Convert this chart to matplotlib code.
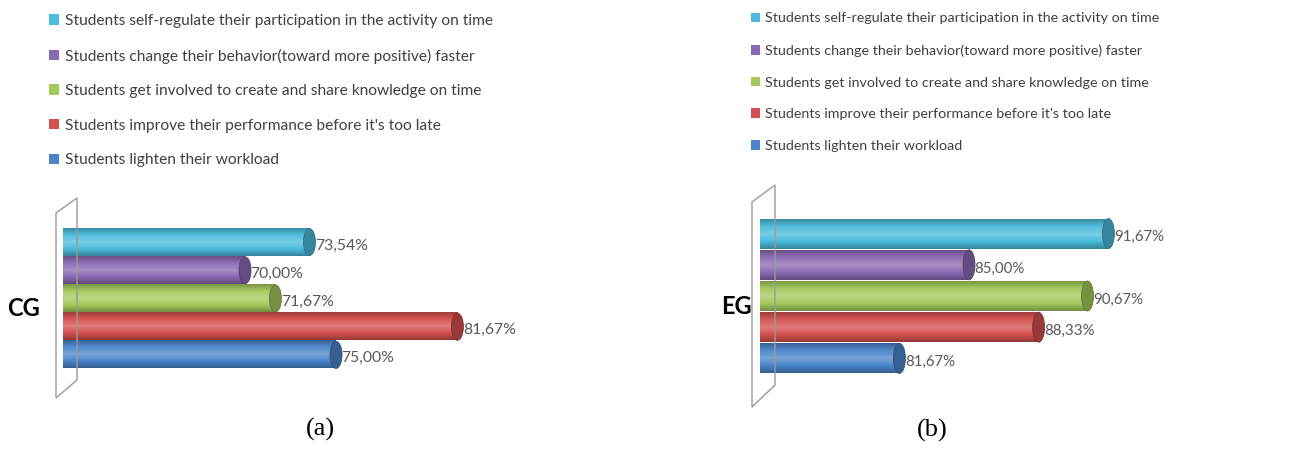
import numpy as np
import matplotlib
matplotlib.use("Agg")
import matplotlib.pyplot as plt
from matplotlib.patches import Ellipse, Patch, Polygon
from matplotlib.colors import LinearSegmentedColormap, to_rgb

# data (bottom to top, as drawn)
categories = ["Students lighten their workload",
              "Students improve their performance before it's too late",
              "Students get involved to create and share knowledge on time",
              "Students change their behavior(toward more positive) faster",
              "Students self-regulate their participation in the activity on time"]
cg_values = [75.00, 81.67, 71.67, 70.00, 73.54]
eg_values = [81.67, 88.33, 90.67, 85.00, 91.67]

bar_colors = ["#4A85CA", "#D4504E", "#A4C95C", "#8A69B4", "#4BBCDC"]
W, H = 1292, 450

plt.rcParams['font.family'] = ['Lato', 'DejaVu Sans']
fig = plt.figure(figsize=(W / 100, H / 100), dpi=100)


def shade(c, f):
    r = np.array(to_rgb(c))
    if f < 1:
        return tuple(r * f)
    return tuple(r + (1 - r) * (f - 1))


def px(x, y):
    return (x / W, 1 - y / H)


def cylinders(ax, values, xmin, xmax, capw, fs):
    y = np.arange(len(values))
    h = 0.96
    ax.set_xlim(xmin, xmax)
    ax.set_ylim(-0.5, len(values) - 0.5)
    for yi, v, c in zip(y, values, bar_colors):
        ax.barh(yi, v - xmin, left=xmin, height=h, color=c, zorder=2)
        cmap = LinearSegmentedColormap.from_list(
            "cyl", [shade(c, 0.7), shade(c, 1.0), shade(c, 1.25), shade(c, 1.05), shade(c, 0.75)])
        grad = np.linspace(0, 1, 64).reshape(-1, 1)
        ax.imshow(grad, extent=[xmin, v, yi - h / 2, yi + h / 2], cmap=cmap,
                  aspect='auto', origin='lower', zorder=3)
        ax.add_patch(Ellipse((v, yi), capw, h, facecolor=shade(c, 0.72),
                             edgecolor=shade(c, 0.6), lw=0.6, zorder=4))
        lab = f"{v:.2f}%".replace('.', ',')
        ax.text(v + capw * 0.45, yi - 0.12, lab, ha='left', va='center',
                fontsize=fs, color='#595959', zorder=5)
    ax.axis('off')


# left panel (a)
axl = fig.add_axes([63 / W, 1 - 369 / H, 500 / W, 141 / H])
axl.patch.set_alpha(0)
cylinders(axl, cg_values, 60, 60 + 500 / 18.2, 0.66, 11.3)

# right panel (b)
axr = fig.add_axes([760 / W, 1 - 374 / H, 450 / W, 156 / H])
axr.patch.set_alpha(0)
cylinders(axr, eg_values, 75, 75 + 450 / 20.9, 0.57, 10.8)

# back walls
for pts in ([(56, 213), (77, 198), (77, 380), (56, 398)],
            [(752, 202), (775, 185), (775, 385), (752, 407)]):
    fig.patches.append(Polygon([px(*p) for p in pts], closed=True, fill=False,
                               edgecolor='#9A9A9A', lw=1.0,
                               transform=fig.transFigure, zorder=0))

# group labels
fig.text(*px(24, 308), "CG", ha='center', va='center', fontsize=17, fontweight='bold')
fig.text(*px(736, 307), "EG", ha='center', va='center', fontsize=17, fontweight='bold')

# legends (top entry = last category)
handles = [Patch(facecolor=c) for c in bar_colors][::-1]
labels = categories[::-1]
fig.legend(handles, labels, loc='upper left', bbox_to_anchor=px(49, 14),
           frameon=False, fontsize=11.2, labelcolor='#404040', borderpad=0,
           borderaxespad=0, handlelength=0.65, handleheight=0.65,
           handletextpad=0.35, labelspacing=1.32)
fig.legend(handles, labels, loc='upper left', bbox_to_anchor=px(751, 12.5),
           frameon=False, fontsize=10.3, labelcolor='#404040', borderpad=0,
           borderaxespad=0, handlelength=0.65, handleheight=0.65,
           handletextpad=0.35, labelspacing=1.38)

# captions
fig.text(*px(320, 429), "(a)", ha='center', va='center', fontsize=19,
         family='Liberation Serif')
fig.text(*px(932, 430), "(b)", ha='center', va='center', fontsize=19,
         family='Liberation Serif')

fig.savefig("out.png", dpi=100)
